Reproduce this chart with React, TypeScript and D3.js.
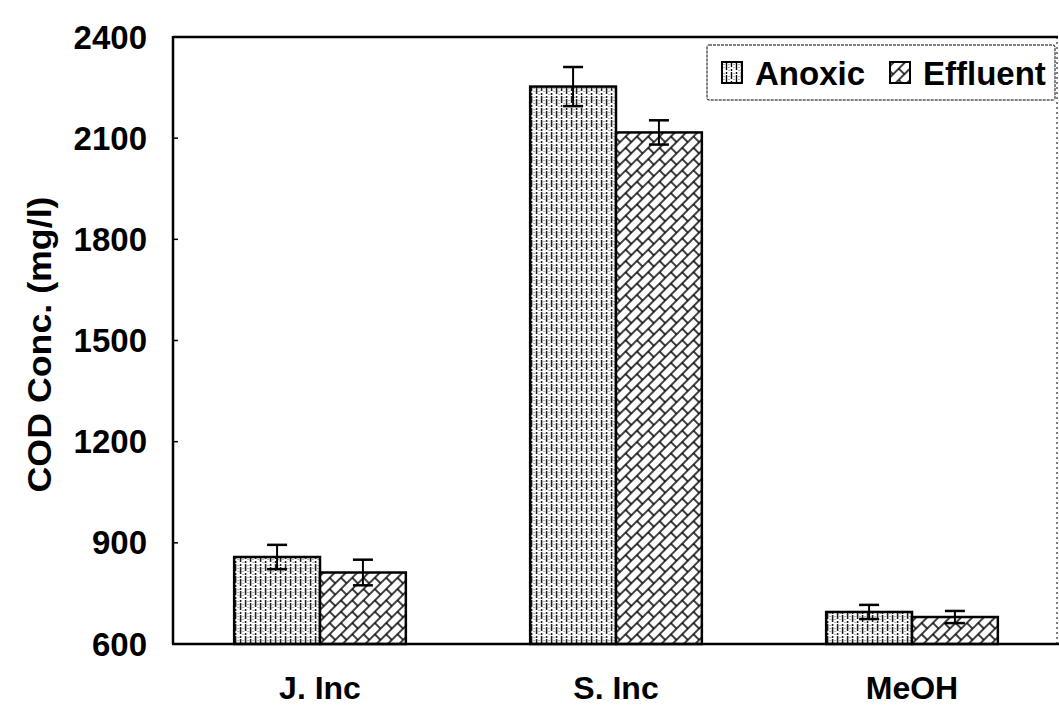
import React from "react";
import * as d3 from "d3";

const categories = ["J. Inc", "S. Inc", "MeOH"];
const seriesNames = ["Anoxic", "Effluent"];
const anoxic = [858, 2253, 695];
const effluent = [812, 2117, 680];
const anoxicErr = [36, 58, 21];
const effluentErr = [38, 36, 18];
const yTicks = [600, 900, 1200, 1500, 1800, 2100, 2400];

const W = 1059;
const H = 708;
const FONT = "'Liberation Sans', Arial, sans-serif";

export default function App() {
  const y = d3.scaleLinear().domain([600, 2400]).range([644, 37]);
  const x = d3
    .scaleBand<string>()
    .domain(categories)
    .range([172, 1060])
    .paddingInner(0.42)
    .paddingOuter(0.21);
  const xs = d3.scaleBand<string>().domain(seriesNames).range([0, x.bandwidth()]);
  const values = [anoxic, effluent];
  const errs = [anoxicErr, effluentErr];
  const fills = ["url(#patA)", "url(#patE)"];
  const left = 173;
  const right = 1057;

  return (
    <svg
      width={W}
      height={H}
      style={{ position: "absolute", left: 0, top: 0, background: "#fff" }}
      fontFamily={FONT}
    >
      <defs>
        <pattern id="patA" patternUnits="userSpaceOnUse" width="10" height="12">
          <rect width="10" height="12" fill="#fff" />
          <line x1="1.5" y1="0" x2="1.5" y2="12" stroke="#000" strokeWidth="1.4" strokeDasharray="7 2 2 1" />
          <line x1="6.5" y1="0" x2="6.5" y2="12" stroke="#000" strokeWidth="1.4" strokeDasharray="2 1 7 2" />
          <line x1="4" y1="1" x2="4" y2="9" stroke="#000" strokeWidth="0.6" strokeDasharray="1 2" />
          <line x1="9" y1="4" x2="9" y2="12" stroke="#000" strokeWidth="0.6" strokeDasharray="1 2" />
        </pattern>
        <pattern
          id="patE"
          patternUnits="userSpaceOnUse"
          width="16"
          height="16"
          patternTransform="rotate(-45)"
        >
          <rect width="16" height="16" fill="#fff" />
          <line x1="0" y1="4" x2="16" y2="4" stroke="#000" strokeWidth="1.5" />
          <line x1="0" y1="12" x2="16" y2="12" stroke="#000" strokeWidth="1.5" />
          <line x1="3" y1="4" x2="3" y2="12" stroke="#000" strokeWidth="1.5" />
          <line x1="11" y1="12" x2="11" y2="16" stroke="#000" strokeWidth="1.5" />
          <line x1="11" y1="0" x2="11" y2="4" stroke="#000" strokeWidth="1.5" />
        </pattern>
      </defs>

      {/* frame */}
      <line x1={left} y1={y(2400)} x2={right + 1} y2={y(2400)} stroke="#000" strokeWidth="2.5" />
      <line x1={right} y1={y(2400)} x2={right} y2={y(600)} stroke="#000" strokeWidth="1" strokeDasharray="2 3" />

      {/* bars */}
      {categories.map((c, i) => (
        <g key={c} transform={`translate(${x(c)},0)`}>
          {seriesNames.map((s, j) => {
            const v = values[j][i];
            const bx = xs(s)!;
            const bw = xs.bandwidth();
            const cx = bx + bw / 2;
            const e = errs[j][i];
            return (
              <g key={s}>
                <rect
                  x={bx}
                  y={y(v)}
                  width={bw}
                  height={y(600) - y(v)}
                  fill={fills[j]}
                  stroke="#000"
                  strokeWidth="2.5"
                />
                <line x1={cx} x2={cx} y1={y(v + e)} y2={y(v - e)} stroke="#000" strokeWidth="2" />
                <line x1={cx - 10} x2={cx + 10} y1={y(v + e)} y2={y(v + e)} stroke="#000" strokeWidth="2.5" />
                <line x1={cx - 10} x2={cx + 10} y1={y(v - e)} y2={y(v - e)} stroke="#000" strokeWidth="2.5" />
              </g>
            );
          })}
        </g>
      ))}

      {/* axes */}
      <line x1={left} y1={y(2400) - 1} x2={left} y2={y(600)} stroke="#000" strokeWidth="2.5" />
      <line x1={left - 1} y1={y(600)} x2={W} y2={y(600)} stroke="#000" strokeWidth="2.5" />
      {yTicks.map((t) => (
        <g key={t}>
          <line x1={left} x2={left + 5} y1={y(t)} y2={y(t)} stroke="#000" strokeWidth="1.5" />
          <text
            x={147}
            y={y(t)}
            textAnchor="end"
            dominantBaseline="central"
            fontSize="33"
            fontWeight="bold"
          >
            {t}
          </text>
        </g>
      ))}
      {categories.map((c) => (
        <text
          key={c}
          x={x(c)! + x.bandwidth() / 2}
          y={699}
          textAnchor="middle"
          fontSize="32"
          fontWeight="bold"
        >
          {c}
        </text>
      ))}
      <text
        transform={`translate(51,${(y(600) + y(2400)) / 2 + 4}) rotate(-90)`}
        textAnchor="middle"
        fontSize="34"
        fontWeight="bold"
        textLength="296"
        lengthAdjust="spacingAndGlyphs"
      >
        COD Conc. (mg/l)
      </text>

      {/* legend */}
      <g>
        <rect
          x={707}
          y={45}
          width={348}
          height={55}
          fill="#fff"
          stroke="#000"
          strokeWidth="1"
          strokeDasharray="3 1"
          rx="2"
        />
        {seriesNames.map((s, j) => {
          const lx = j === 0 ? 722 : 890;
          return (
            <g key={s}>
              <rect x={lx} y={62} width={20} height={21} fill={fills[j]} stroke="#000" strokeWidth="2" />
              <text x={lx + 33} y={85} fontSize="33" fontWeight="bold">
                {s}
              </text>
            </g>
          );
        })}
      </g>
    </svg>
  );
}
